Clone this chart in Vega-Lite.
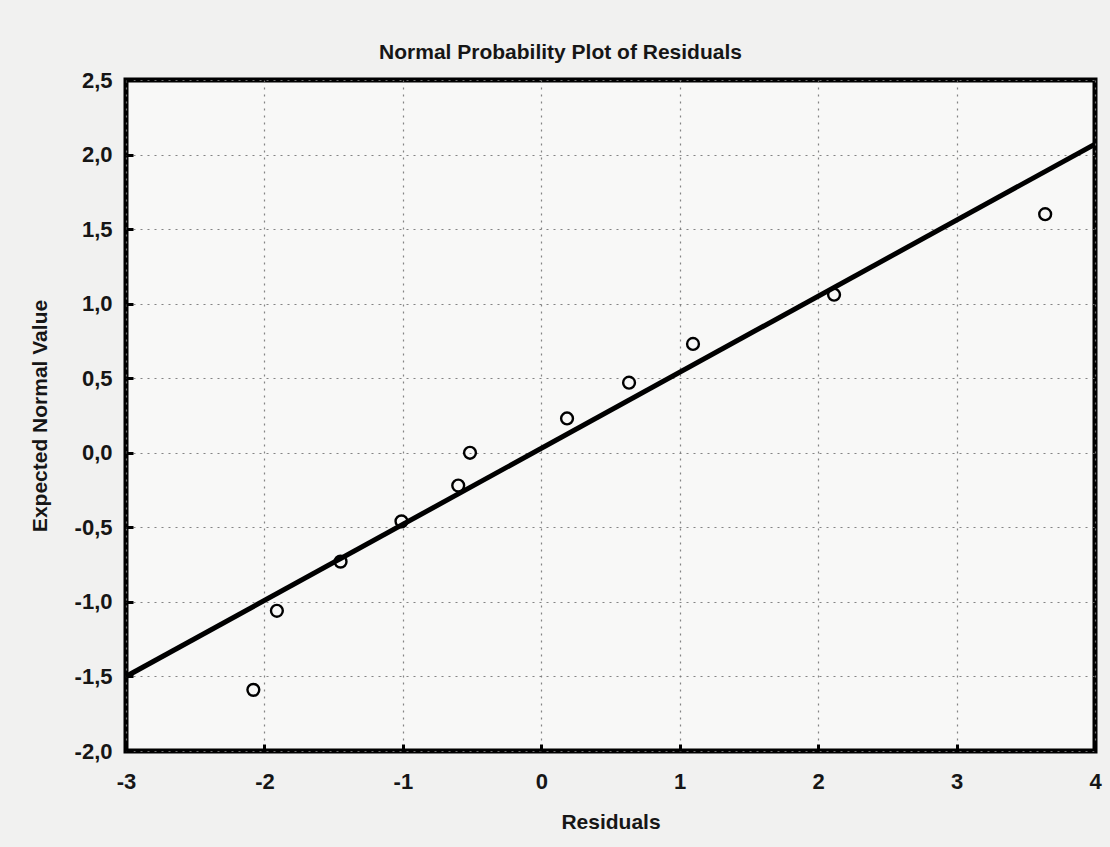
{
  "$schema": "https://vega.github.io/schema/vega-lite/v6.json",
  "width": 969,
  "height": 671,
  "autosize": {"type": "none"},
  "padding": {"left": 126, "top": 80, "right": 15, "bottom": 96},
  "background": "#f1f1f0",
  "title": {
    "text": "Normal Probability Plot of Residuals",
    "font": "Liberation Sans",
    "fontSize": 21,
    "fontWeight": "bold",
    "color": "#161616",
    "anchor": "middle",
    "dx": -50,
    "offset": 6
  },
  "datasets": {
    "pts": [
      {"residual": -2.08, "expected": -1.59},
      {"residual": -1.91, "expected": -1.06},
      {"residual": -1.45, "expected": -0.73},
      {"residual": -1.01, "expected": -0.46},
      {"residual": -0.60, "expected": -0.22},
      {"residual": -0.515, "expected": 0.0},
      {"residual": 0.186, "expected": 0.23},
      {"residual": 0.634, "expected": 0.47},
      {"residual": 1.096, "expected": 0.73},
      {"residual": 2.115, "expected": 1.06},
      {"residual": 3.64, "expected": 1.60}
    ],
    "fit": [
      {"residual": -3, "expected": -1.50},
      {"residual": 4, "expected": 2.07}
    ]
  },
  "layer": [
    {
      "data": {"name": "fit"},
      "mark": {"type": "line", "color": "#000000", "strokeWidth": 5, "clip": true},
      "encoding": {
        "x": {"field": "residual", "type": "quantitative"},
        "y": {"field": "expected", "type": "quantitative"}
      }
    },
    {
      "data": {"name": "pts"},
      "mark": {"type": "point", "shape": "circle", "filled": false, "color": "#000000", "strokeWidth": 2.4, "size": 140, "opacity": 1},
      "encoding": {
        "x": {
          "field": "residual",
          "type": "quantitative",
          "title": "Residuals",
          "scale": {"domain": [-3, 4], "nice": false, "zero": false},
          "axis": {
            "values": [-3, -2, -1, 0, 1, 2, 3, 4],
            "labelExpr": "replace(format(datum.value, 'd'), '\u2212', '-')",
            "labelFlush": false,
            "labelPadding": 27,
            "titlePadding": 19
          }
        },
        "y": {
          "field": "expected",
          "type": "quantitative",
          "title": "Expected Normal Value",
          "scale": {"domain": [-2, 2.5], "nice": false, "zero": false},
          "axis": {
            "values": [-2, -1.5, -1, -0.5, 0, 0.5, 1, 1.5, 2, 2.5],
            "labelExpr": "replace(replace(format(datum.value, '.1f'), '.', ','), '\u2212', '-')",
            "labelFlush": false,
            "labelPadding": 21,
            "titlePadding": 24
          }
        }
      }
    }
  ],
  "config": {
    "view": {"stroke": "#000000", "strokeWidth": 5, "fill": "#f8f8f7"},
    "axis": {
      "domain": false,
      "grid": true,
      "gridColor": "#777777",
      "gridDash": [2, 5],
      "gridWidth": 1.2,
      "gridOpacity": 0.9,
      "ticks": true,
      "tickColor": "#000000",
      "tickSize": -7,
      "tickWidth": 3,
      "labelFont": "Liberation Sans",
      "labelFontSize": 22,
      "labelFontWeight": "bold",
      "labelColor": "#161616",
      "titleFont": "Liberation Sans",
      "titleFontSize": 21,
      "titleFontWeight": "bold",
      "titleColor": "#161616"
    }
  }
}
